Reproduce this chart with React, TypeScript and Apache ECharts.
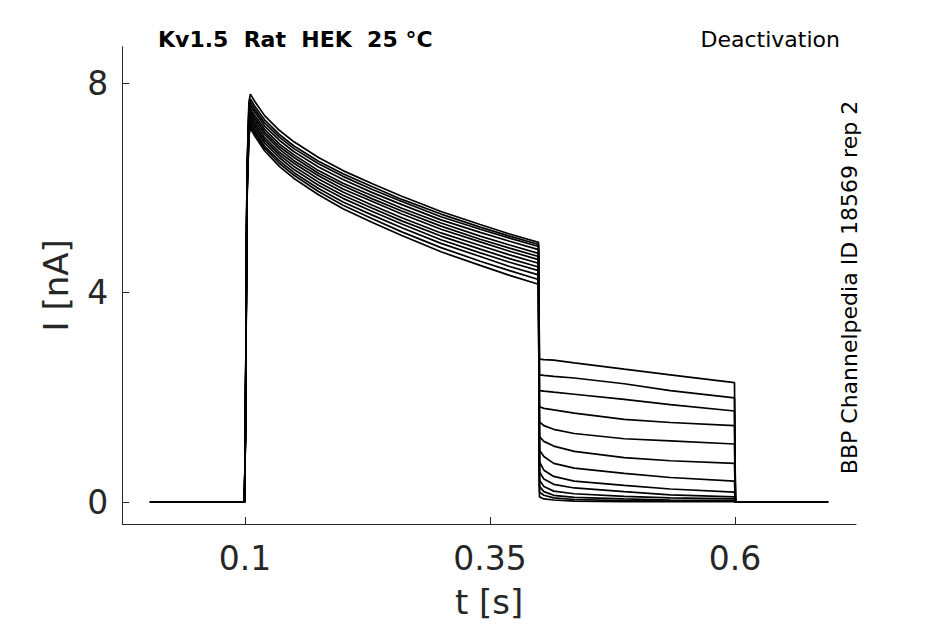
import React, { useEffect, useRef } from "react";
import * as echarts from "echarts";

// Axis ticks
const xTicks = [0.1, 0.35, 0.6];
const yTicks = [0, 4, 8];

// Sample times (s)
const baseTimes = [0.003, 0.0995];
const pulseTimes = [0.1005, 0.102, 0.104, 0.1055, 0.11, 0.12, 0.135, 0.15, 0.175, 0.2, 0.23, 0.26, 0.3, 0.34, 0.37, 0.3995];
const tailTimes = [0.4005, 0.405, 0.415, 0.436, 0.487, 0.534, 0.5995];
const offTimes = [0.6005, 0.695];

// Current during the activating pulse (nA), one array per sweep
const pulse1 = [1.6, 6.3, 7.64, 7.79, 7.65, 7.38, 7.1, 6.88, 6.58, 6.33, 6.08, 5.84, 5.55, 5.3, 5.12, 4.96];
const pulse2 = [1.6, 6.2, 7.55, 7.7, 7.56, 7.3, 7.02, 6.8, 6.51, 6.27, 6.02, 5.78, 5.5, 5.25, 5.08, 4.92];
const pulse3 = [1.6, 6.2, 7.49, 7.64, 7.5, 7.24, 6.97, 6.75, 6.46, 6.22, 5.97, 5.74, 5.45, 5.21, 5.04, 4.88];
const pulse4 = [1.5, 6.1, 7.43, 7.58, 7.45, 7.18, 6.91, 6.69, 6.4, 6.16, 5.91, 5.68, 5.39, 5.15, 4.98, 4.82];
const pulse5 = [1.5, 6.1, 7.37, 7.52, 7.38, 7.12, 6.84, 6.63, 6.33, 6.09, 5.85, 5.61, 5.33, 5.08, 4.91, 4.75];
const pulse6 = [1.5, 6.0, 7.32, 7.47, 7.33, 7.07, 6.79, 6.58, 6.28, 6.04, 5.79, 5.56, 5.27, 5.02, 4.85, 4.69];
const pulse7 = [1.5, 6.0, 7.27, 7.42, 7.28, 7.02, 6.74, 6.52, 6.23, 5.98, 5.74, 5.5, 5.21, 4.97, 4.79, 4.63];
const pulse8 = [1.4, 6.0, 7.22, 7.37, 7.23, 6.96, 6.68, 6.47, 6.17, 5.92, 5.67, 5.43, 5.14, 4.9, 4.72, 4.56];
const pulse9 = [1.4, 5.9, 7.17, 7.32, 7.18, 6.91, 6.63, 6.41, 6.11, 5.86, 5.61, 5.37, 5.08, 4.83, 4.65, 4.49];
const pulse10 = [1.4, 5.9, 7.12, 7.27, 7.13, 6.86, 6.58, 6.35, 6.05, 5.8, 5.55, 5.31, 5.01, 4.76, 4.58, 4.42];
const pulse11 = [1.4, 5.8, 7.07, 7.22, 7.08, 6.8, 6.52, 6.29, 5.99, 5.73, 5.48, 5.24, 4.94, 4.69, 4.5, 4.34];
const pulse12 = [1.3, 5.8, 7.03, 7.18, 7.04, 6.76, 6.47, 6.24, 5.93, 5.67, 5.41, 5.16, 4.86, 4.6, 4.42, 4.25];
const pulse13 = [1.3, 5.7, 6.99, 7.14, 6.99, 6.71, 6.41, 6.18, 5.87, 5.6, 5.34, 5.09, 4.78, 4.52, 4.33, 4.16];

// Tail currents (nA), one array per sweep
const tail1 = [2.73, 2.72, 2.71, 2.66, 2.54, 2.43, 2.28];
const tail2 = [2.43, 2.42, 2.4, 2.37, 2.26, 2.13, 1.99];
const tail3 = [2.13, 2.12, 2.1, 2.06, 1.96, 1.86, 1.74];
const tail4 = [1.82, 1.79, 1.76, 1.7, 1.58, 1.52, 1.46];
const tail5 = [1.53, 1.46, 1.39, 1.31, 1.21, 1.17, 1.11];
const tail6 = [1.25, 1.16, 1.07, 0.97, 0.85, 0.79, 0.74];
const tail7 = [0.99, 0.87, 0.74, 0.65, 0.55, 0.47, 0.4];
const tail8 = [0.77, 0.61, 0.49, 0.4, 0.32, 0.25, 0.19];
const tail9 = [0.58, 0.44, 0.34, 0.27, 0.2, 0.14, 0.1];
const tail10 = [0.42, 0.3, 0.21, 0.16, 0.11, 0.08, 0.06];
const tail11 = [0.3, 0.2, 0.13, 0.09, 0.06, 0.04, 0.03];
const tail12 = [0.19, 0.13, 0.08, 0.05, 0.03, 0.02, 0.02];
const tail13 = [0.1, 0.06, 0.04, 0.02, 0.01, 0.01, 0.01];

const pulses = [pulse1, pulse2, pulse3, pulse4, pulse5, pulse6, pulse7, pulse8, pulse9, pulse10, pulse11, pulse12, pulse13];
const tails = [tail1, tail2, tail3, tail4, tail5, tail6, tail7, tail8, tail9, tail10, tail11, tail12, tail13];

const FONT = "DejaVu Sans";
const AXIS_COLOR = "#262626";

export default function App() {
  const ref = useRef<HTMLDivElement>(null);

  useEffect(() => {
    if (!ref.current) return;
    const chart = echarts.init(ref.current, undefined, { renderer: "svg" });

    const series = pulses.map((p, k) => {
      const data: number[][] = [];
      baseTimes.forEach((t) => data.push([t, 0]));
      pulseTimes.forEach((t, i) => data.push([t, p[i]]));
      tailTimes.forEach((t, i) => data.push([t, tails[k][i]]));
      offTimes.forEach((t) => data.push([t, 0]));
      return {
        type: "line",
        name: "sweep " + (k + 1),
        data,
        showSymbol: false,
        symbol: "none",
        silent: true,
        lineStyle: { color: "#000000", width: 1.7 },
        z: 3,
      };
    });

    chart.setOption({
      animation: false,
      backgroundColor: "#ffffff",
      grid: { left: 122.3, right: 89, top: 46.7, bottom: 98, containLabel: false },
      xAxis: {
        type: "value",
        min: -0.0252,
        max: 0.7235,
        name: "t [s]",
        nameLocation: "middle",
        nameGap: 61,
        nameTextStyle: { fontFamily: FONT, fontSize: 34, color: AXIS_COLOR },
        axisLine: { show: true, onZero: false, lineStyle: { color: AXIS_COLOR, width: 1 } },
        axisTick: { show: true, inside: true, length: 7, customValues: xTicks, lineStyle: { color: AXIS_COLOR } },
        axisLabel: {
          customValues: xTicks,
          margin: 18,
          fontFamily: FONT,
          fontSize: 33,
          color: AXIS_COLOR,
          formatter: (v: number) => String(v),
        },
        splitLine: { show: false },
      },
      yAxis: {
        type: "value",
        min: -0.418,
        max: 8.696,
        name: "I [nA]",
        nameLocation: "middle",
        nameRotate: 90,
        nameGap: 49,
        nameTextStyle: { fontFamily: FONT, fontSize: 34, color: AXIS_COLOR },
        axisLine: { show: true, onZero: false, lineStyle: { color: AXIS_COLOR, width: 1 } },
        axisTick: { show: true, inside: true, length: 7, customValues: yTicks, lineStyle: { color: AXIS_COLOR } },
        axisLabel: {
          customValues: yTicks,
          margin: 14,
          fontFamily: FONT,
          fontSize: 33,
          color: AXIS_COLOR,
          formatter: (v: number) => String(v),
        },
        splitLine: { show: false },
      },
      graphic: [
        {
          type: "text",
          x: 158,
          y: 39.5,
          style: {
            text: "Kv1.5  Rat  HEK  25 °C",
            fontFamily: FONT,
            fontWeight: "bold",
            fontSize: 22,
            fill: "#000000",
            align: "left",
            verticalAlign: "middle",
          },
        },
        {
          type: "text",
          x: 840,
          y: 39,
          style: {
            text: "Deactivation",
            fontFamily: FONT,
            fontSize: 22,
            fill: "#000000",
            align: "right",
            verticalAlign: "middle",
          },
        },
        {
          type: "text",
          x: 849,
          y: 287.5,
          rotation: Math.PI / 2,
          style: {
            text: "BBP Channelpedia ID 18569 rep 2",
            fontFamily: FONT,
            fontSize: 22,
            fill: "#000000",
            align: "center",
            verticalAlign: "middle",
          },
        },
      ],
      series,
    });

    return () => chart.dispose();
  }, []);

  return (
    <div
      ref={ref}
      style={{ position: "fixed", left: 0, top: 0, width: 945, height: 624, background: "#ffffff" }}
    />
  );
}
